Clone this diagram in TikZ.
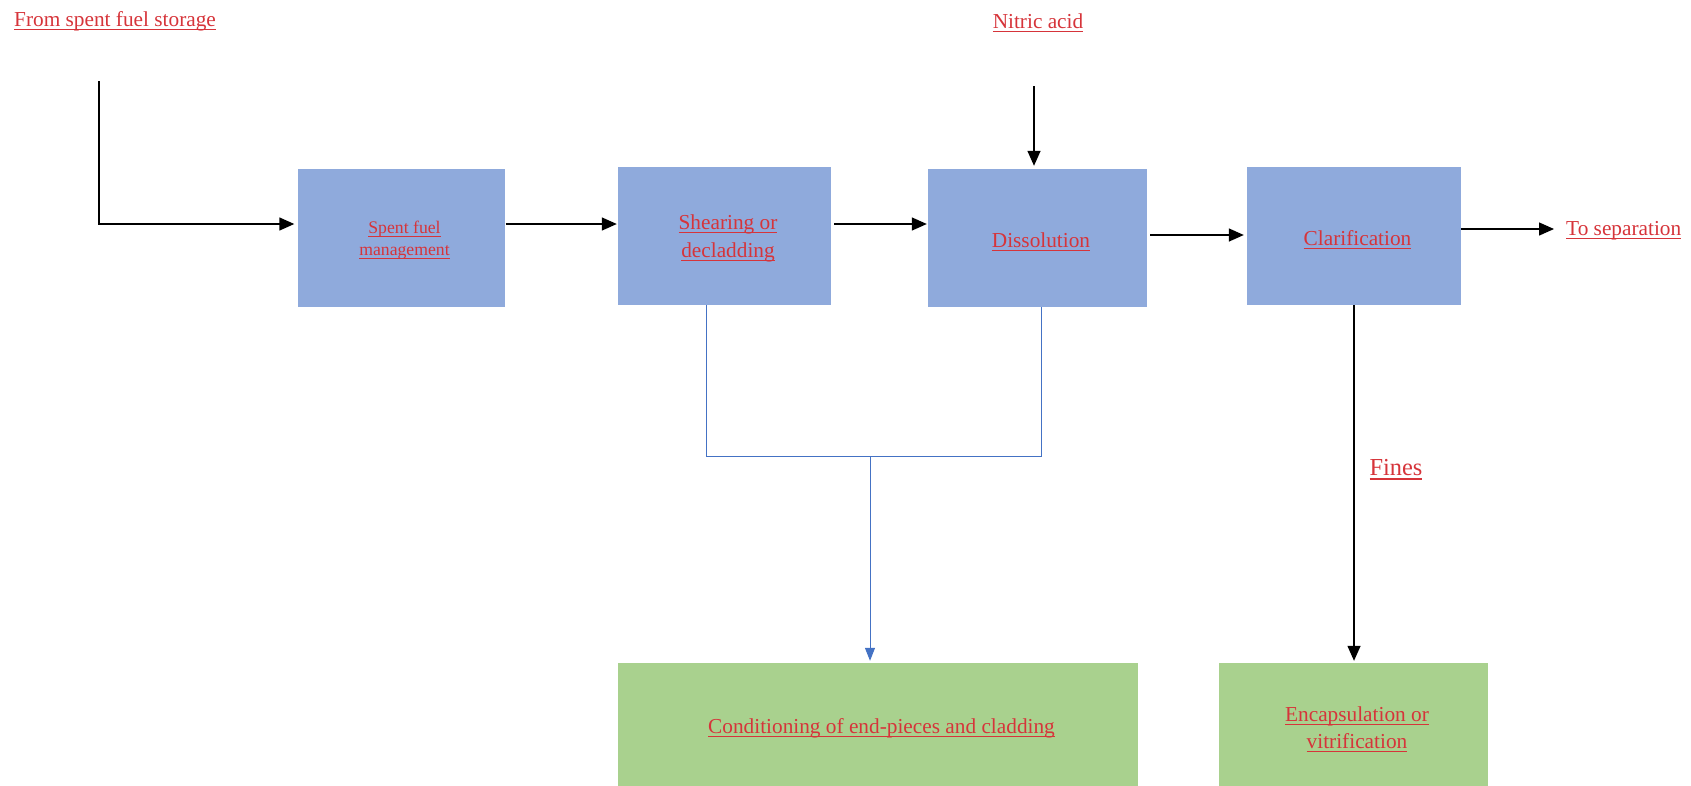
\documentclass[tikz,border=0pt]{standalone}
\usepackage{fontspec}
\setmainfont{Liberation Serif}
\usetikzlibrary{arrows.meta}
\definecolor{procblue}{RGB}{143,170,220}
\definecolor{wastegreen}{RGB}{169,209,142}
\definecolor{linkred}{RGB}{214,52,58}
\definecolor{scrapblue}{RGB}{68,114,196}
\newsavebox{\lnkbox}
\newlength{\lnkdx}
\newcommand{\lnk}[1]{\sbox{\lnkbox}{#1}\makebox[\wd\lnkbox][l]{\raisebox{-2pt}[\ht\lnkbox][\dp\lnkbox]{\kern\lnkdx\rlap{\rule[-3.6pt]{\wd\lnkbox}{1.1pt}}\usebox{\lnkbox}}}}
\tikzset{
  lbl/.style={text=linkred,font=\fontsize{21.3}{28}\selectfont,align=center,inner sep=0pt},
  procbox/.style={lbl,shape=rectangle,fill=procblue,minimum height=138pt,execute at begin node={\setlength{\lnkdx}{3.5pt}}},
  wastebox/.style={lbl,shape=rectangle,fill=wastegreen,minimum height=126pt,execute at begin node={\setlength{\lnkdx}{3.5pt}}},
  flow/.style={-{Triangle[length=15pt,width=13pt]},line width=1.4pt,black},
  scrapline/.style={-,line width=1pt,scrapblue},
  scrap/.style={scrapline,-{Triangle[length=13pt,width=10pt]}}
}
\begin{document}
\begin{tikzpicture}[x=1pt,y=-1pt]
\useasboundingbox (0,0) rectangle (1691,785);

\node[lbl,anchor=west] (store) at (14,19) {\lnk{From spent fuel storage}};
\node[lbl] (acid) at (1038,19) {\lnk{Nitric acid}};
\coordinate (feedtop) at (99,81);
\coordinate (acidtop) at (1034,86);

\node[procbox,minimum width=207pt,font=\fontsize{17.7}{21.6}\selectfont] (sfm) at (401,238) {\lnk{Spent fuel}\\\lnk{management}};
\node[procbox,minimum width=213pt] (shr) at (724.5,236) {\lnk{Shearing or}\\\lnk{decladding}};
\node[procbox,minimum width=219pt] (dis) at (1037.5,238) {\lnk{Dissolution}};
\node[procbox,minimum width=214pt] (cla) at (1354,236) {\lnk{Clarification}};
\node[lbl,anchor=west] (tosep) at (1566,229) {\lnk{To separation}};

\node[wastebox,minimum width=520pt] (cond) at (878,726) {\lnk{Conditioning of end-pieces and cladding}};
\node[wastebox,minimum width=269pt,font=\fontsize{21.3}{27}\selectfont] (enc) at (1353.5,726) {\lnk{Encapsulation or}\\\lnk{vitrification}};
\node[lbl,font=\fontsize{24.4}{29}\selectfont] (fines) at (1396,466) {\lnk{Fines}};
\coordinate (merge) at (870,456);

% main line
\draw[flow,shorten >=3pt] (feedtop) |- ([yshift=14pt]sfm.west);
\draw[flow,shorten <=1pt,shorten >=1pt] ([yshift=14pt]sfm.east) -- ([yshift=14pt]sfm.east -| shr.west);
\draw[flow,shorten <=3pt,shorten >=1pt] ([yshift=12pt]shr.east) -- ([yshift=12pt]shr.east -| dis.west);
\draw[flow,shorten <=3pt,shorten >=3pt] ([yshift=3pt]dis.east) -- ([yshift=3pt]dis.east -| cla.west);
\draw[flow,shorten >=12pt] ([yshift=7pt]cla.east) -- (tosep.west);
\draw[flow,shorten >=3pt] (acidtop) -- (acidtop |- dis.north);

% solids
\draw[scrapline] ([xshift=-18.5pt]shr.south) |- (merge);
\draw[scrapline] ([xshift=3.5pt]dis.south) |- (merge);
\draw[scrap,shorten >=2pt] (merge) -- (merge |- cond.north);
\draw[flow,shorten >=2pt] (cla.south) -- (cla.south |- enc.north);
\end{tikzpicture}
\end{document}
